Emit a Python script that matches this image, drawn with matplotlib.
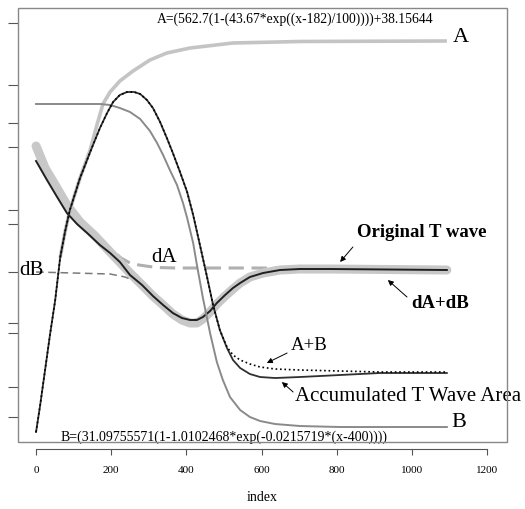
import matplotlib
matplotlib.use("Agg")
import matplotlib.pyplot as plt
from matplotlib.patches import Rectangle

plt.rcParams['font.family'] = ['Liberation Serif', 'DejaVu Serif']

# accumulated T wave area and A+B (dotted)
acc_x = [0, 11, 24, 37, 51, 64, 77, 90, 117, 144, 170, 189, 205, 223, 242, 261, 277,
         295, 311, 330, 348, 364, 383, 402, 418, 436, 455, 471, 489, 508, 524, 543,
         569, 596, 636, 702, 809, 915, 1093]
acc_area = [10, 37, 72, 107, 142, 184, 210, 232, 264, 290, 314, 329, 340, 347, 350, 350,
            348, 342, 334, 320, 304, 289, 270, 250, 227, 197, 165, 137, 112, 94, 82, 74,
            68, 65, 64, 65, 67, 69, 69]
a_plus_b = [10, 37, 72, 107, 142, 184, 210, 232, 264, 290, 314, 329, 340, 347, 350, 350,
            348, 342, 334, 320, 304, 289, 270, 250, 227, 197, 165, 137, 112, 95, 87, 82,
            78, 75, 73, 72, 71, 70, 70]

# A (rising) and B (falling)
a_x = [64, 77, 90, 117, 144, 162, 178, 197, 223, 258, 303, 348, 410, 524, 702, 1093]
curve_a = [184, 210, 232, 264, 292, 317, 338, 350, 361, 371, 382, 389, 394, 399,
           400.5, 401]
b_x = [0, 170, 197, 223, 250, 277, 303, 322, 338, 356, 375, 391, 402, 418, 428, 444,
       463, 481, 497, 516, 543, 569, 596, 636, 702, 809, 1093]
curve_b = [338, 338, 337, 334, 330, 323, 311, 299, 287, 272, 257, 239, 224, 199, 177,
           144, 109, 80, 62, 45, 32, 25, 21, 18, 16, 15, 15]

# original T wave and its dA+dB fit
t_x = [0, 29, 56, 82, 109, 136, 170, 197, 223, 250, 282, 311, 338, 364, 388, 410,
       428, 444, 463, 481, 503, 524, 543, 569, 604, 649, 702, 782, 1093]
t_wave = [281, 262, 245, 229, 218, 209, 197, 189, 180, 167, 157, 146, 137, 129, 124,
          122, 122, 125, 131, 139, 147, 154, 159, 165, 169, 172, 173, 173, 172]
fit_x = [0, 24, 51, 82, 117, 157, 197, 250, 282, 311, 338, 364, 388, 410, 428, 444,
         463, 481, 503, 524, 543, 569, 604, 649, 702, 782, 1093]
fit_dadb = [296, 274, 257, 237, 220, 206, 190, 169, 157, 146, 137, 128, 122, 119, 119,
            123, 130, 138, 146, 153, 159, 165, 169, 172, 173, 173, 172]

# derivatives dA and dB
da_x = [0, 24, 51, 82, 117, 157, 190, 226, 250, 274, 301, 324, 370, 1093]
d_a = [296, 274, 257, 237, 220, 206, 196, 184, 179, 177, 175.5, 174.5, 174, 174]
db_x = [0, 197, 237, 263, 303, 343, 383, 410, 436, 476, 516, 556, 596, 649, 1093]
d_b = [170, 168, 165, 161, 152, 138, 126, 121, 124, 137, 152, 163, 168, 170, 170]

xticks = [0, 200, 400, 600, 800, 1000, 1200]
yticks = [419, 357, 319, 295, 232, 218, 170, 119, 109, 55, 25]

fig = plt.figure(figsize=(5.25, 5.09), dpi=100)
ax = fig.add_axes([0.0343, 0.1316, 0.9314, 0.8527])

ax.plot(db_x, d_b, color='#7a7a7a', lw=1.1, ls=(0, (5, 3)), zorder=1)
ax.plot(da_x, d_a, color='#b0b0b0', lw=2.2, ls=(0, (5, 2.5)), zorder=2)
ax.plot(fit_x, fit_dadb, color='#c8c8c8', lw=6.5, solid_capstyle='round', zorder=3)
ax.plot(t_x, t_wave, color='#202020', lw=1.4, zorder=4)
ax.plot(a_x, curve_a, color='#c4c4c4', lw=2.6, solid_capstyle='butt', zorder=3)
ax.plot(b_x, curve_b, color='#8a8a8a', lw=1.4, zorder=4)
ax.plot(acc_x, acc_area, color='#303030', lw=1.3, zorder=5)
ax.plot(acc_x, a_plus_b, color='#000000', lw=1.2, ls=':', zorder=6)

ax.set_xlim(-48, 1253)
ax.set_ylim(0, 434)

# box
ax.add_patch(Rectangle((0, 0), 1, 1, transform=ax.transAxes, fill=False,
                       edgecolor='#888888', lw=1, clip_on=False, zorder=10))
for s in ['top', 'right', 'left']:
    ax.spines[s].set_visible(False)
ax.spines['bottom'].set_position(('outward', 5))
ax.spines['bottom'].set_bounds(0, 1200)
ax.spines['bottom'].set_color('#555555')

ax.set_xticks(xticks)
ax.set_xticklabels([str(t) for t in xticks], fontsize=8)
ax.tick_params(axis='x', direction='out', length=4, pad=8, color='#555555')
ax.set_yticks(yticks)
ax.set_yticklabels([])
ax.tick_params(axis='y', direction='out', length=7, color='#555555')
ax.set_xlabel('index', fontsize=10, labelpad=12)

ax.text(689, 423, 'A=(562.7(1-(43.67*exp((x-182)/100))))+38.15644',
        fontsize=9.8, ha='center', va='center')
ax.text(501, 5, 'B=(31.09755571(1-1.0102468*exp(-0.0215719*(x-400))))',
        fontsize=10, ha='center', va='center')
ax.text(1130, 404, 'A', fontsize=16, ha='center', va='center')
ax.text(1125, 20, 'B', fontsize=16, ha='center', va='center')
ax.text(340, 185, 'dA', fontsize=15, ha='center', va='center')
ax.text(-13, 172, 'dB', fontsize=15, ha='center', va='center')
ax.text(1025, 210, 'Original T wave', fontsize=13.5, fontweight='bold',
        ha='center', va='center')
ax.text(1074, 139, 'dA+dB', fontsize=13.5, fontweight='bold', ha='center', va='center')
ax.text(726, 97, 'A+B', fontsize=13.5, ha='center', va='center')
ax.text(689, 46, 'Accumulated T Wave Area', fontsize=15, ha='left', va='center',
        clip_on=False)

arrow = dict(arrowstyle='-|>', color='black', lw=0.7, mutation_scale=8,
             shrinkA=0, shrinkB=0)
ax.annotate('', xy=(809, 180), xytext=(843, 195), arrowprops=arrow)
ax.annotate('', xy=(936, 162), xytext=(987, 145), arrowprops=arrow)
ax.annotate('', xy=(614, 79), xytext=(668, 89), arrowprops=arrow)
ax.annotate('', xy=(654, 60), xytext=(684, 50), arrowprops=arrow)

fig.savefig('out.png', dpi=100)
